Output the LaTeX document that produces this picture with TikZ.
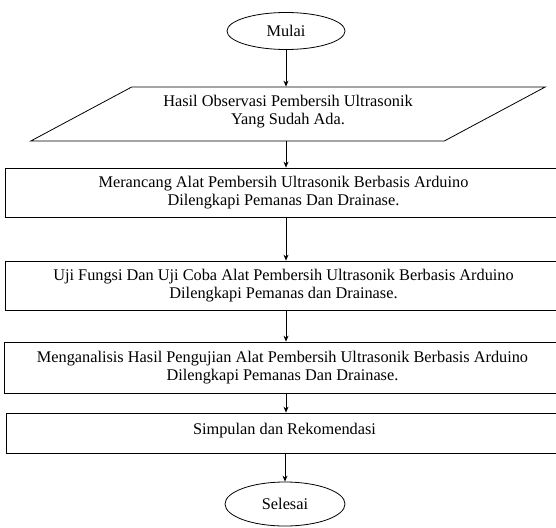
\documentclass[tikz,border=0pt]{standalone}
\usepackage{fontspec}
\setmainfont{Liberation Serif}
\usetikzlibrary{shapes.geometric,arrows.meta,positioning}

\begin{document}
\begin{tikzpicture}[x=1pt,y=-1pt,
  term/.style={draw,ellipse,line width=0.8pt,minimum width=118pt,minimum height=37pt,inner sep=0pt,font=\fontsize{16.3}{18}\selectfont},
  io/.style={draw,trapezium,trapezium left angle=28,trapezium right angle=152,trapezium stretches=true,minimum width=516pt,minimum height=54pt,line width=0.8pt,align=center,font=\fontsize{16.3}{18}\selectfont},
  proc/.style={draw,rectangle,minimum width=557pt,line width=0.8pt,align=center,font=\fontsize{16.3}{18}\selectfont},
  arr/.style={-{Stealth[length=6pt,width=5pt]},line width=0.8pt}]
  \useasboundingbox (0,0) rectangle (556,527);
  \node[term] (mulai) at (286,31) {Mulai};
  \node[io,text depth=8pt] (hasil) at (288,114) {Hasil Observasi Pembersih Ultrasonik\\Yang Sudah Ada.};
  \node[proc,minimum height=49pt] (rancang) at (283.5,192.5) {Merancang Alat Pembersih Ultrasonik Berbasis Arduino\\Dilengkapi Pemanas Dan Drainase.};
  \node[proc,minimum height=49pt] (uji) at (283.5,285.5) {Uji Fungsi Dan Uji Coba Alat Pembersih Ultrasonik Berbasis Arduino\\Dilengkapi Pemanas dan Drainase.};
  \node[proc,minimum height=51pt] (analisis) at (282.5,367.5) {Menganalisis Hasil Pengujian Alat Pembersih Ultrasonik Berbasis Arduino\\Dilengkapi Pemanas Dan Drainase.};
  \node[proc,minimum height=40pt,text depth=9pt] (simpulan) at (284.5,433) {Simpulan dan Rekomendasi};
  \node[term,minimum width=120pt,minimum height=44pt] (selesai) at (285,504) {Selesai};

  \draw[arr] (mulai.south -| mulai.south) -- (hasil.north -| mulai.south);
  \draw[arr] (hasil.south -| mulai.south) -- (rancang.north -| mulai.south);
  \draw[arr] (rancang.south -| mulai.south) -- (uji.north -| mulai.south);
  \draw[arr] (uji.south -| mulai.south) -- (analisis.north -| mulai.south);
  \draw[arr] (analisis.south -| mulai.south) -- (simpulan.north -| mulai.south);
  \draw[arr] (simpulan.south -| selesai.north) -- (selesai.north);
\end{tikzpicture}
\end{document}
